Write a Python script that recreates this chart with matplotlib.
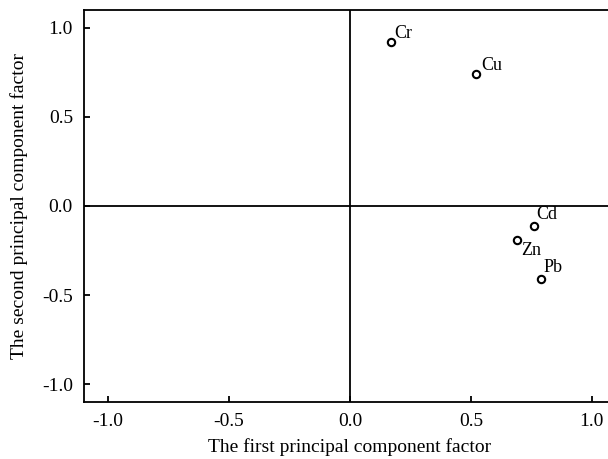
import matplotlib
matplotlib.use("Agg")
import matplotlib.pyplot as plt

elements = ["Cr", "Cu", "Cd", "Zn", "Pb"]
pc1 = [0.17, 0.52, 0.76, 0.69, 0.79]
pc2 = [0.92, 0.74, -0.11, -0.19, -0.41]
label_offsets = {"Cr": (2, 0), "Cu": (4, 0), "Cd": (2, 2), "Zn": (3, -14), "Pb": (2, 2)}

ticks = [-1.0, -0.5, 0.0, 0.5, 1.0]
tick_labels = ["-1.0", "-0.5", "0.0", "0.5", "1.0"]

plt.rcParams['font.family'] = ['Liberation Serif', 'DejaVu Serif']

fig = plt.figure(figsize=(6.08, 4.59), dpi=100)
ax = fig.add_axes([84/608, 57/459, 532/608, 392/459])
ax.set_xlim(-1.1, 1.1)
ax.set_ylim(-1.1, 1.1)

ax.axhline(0, color='black', lw=1.3, zorder=1)
ax.axvline(0, color='black', lw=1.3, zorder=1)

ax.scatter(pc1, pc2, s=28, facecolors='white', edgecolors='black', linewidths=1.5, zorder=3)
for name, x, y in zip(elements, pc1, pc2):
    dx, dy = label_offsets[name]
    ax.annotate(name, (x, y), xytext=(dx, dy), textcoords='offset points',
                fontsize=13, ha='left', va='bottom')

ax.set_xticks(ticks)
ax.set_xticklabels(tick_labels)
ax.set_yticks(ticks)
ax.set_yticklabels(tick_labels)
ax.tick_params(direction='in', length=4, width=1.3, labelsize=14, pad=8)
for s in ax.spines.values():
    s.set_linewidth(1.3)

ax.set_xlabel("The first principal component factor", fontsize=14, labelpad=6)
ax.set_ylabel("The second principal component factor", fontsize=14, labelpad=10)

fig.savefig("out.png", dpi=100)
